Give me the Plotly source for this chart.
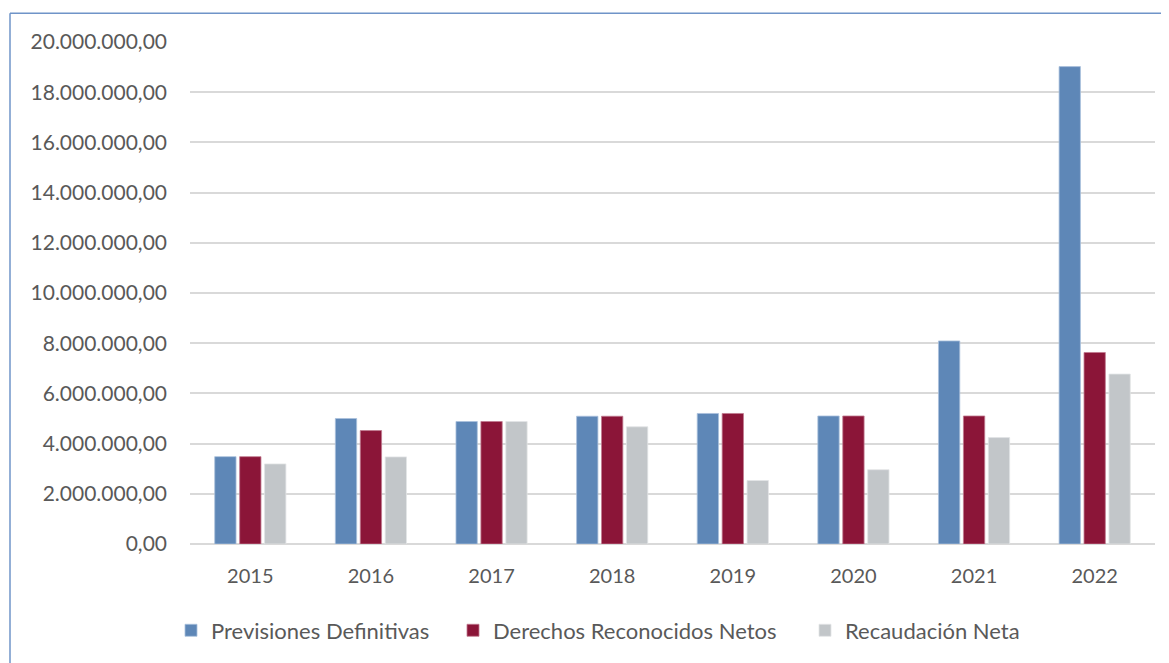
import plotly.graph_objects as go

years = ["2015", "2016", "2017", "2018", "2019", "2020", "2021", "2022"]
previsiones = [3480000, 5000000, 4880000, 5090000, 5200000, 5100000, 8090000, 19020000]
derechos = [3480000, 4520000, 4880000, 5090000, 5200000, 5100000, 5100000, 7630000]
recaudacion = [3190000, 3470000, 4880000, 4670000, 2530000, 2960000, 4240000, 6770000]
y_ticks = [0, 2000000, 4000000, 6000000, 8000000, 10000000, 12000000, 14000000, 16000000, 18000000, 20000000]

names = ["Previsiones Definitivas", "Derechos Reconocidos Netos", "Recaudación Neta"]
colors = ["#5E87B7", "#8B1538", "#C2C6C9"]
edges = ["#A9C0DC", "#C07A8F", "#E2E4E6"]
legend_ids = ["legend", "legend2", "legend3"]
legend_px = [185, 467, 819]  # left edge of legend markers (screen px)

OFF = 8  # page body margin
W, H = 1169 - OFF, 663 - OFF
L, T = 190 - OFF, 42 - OFF
R = W - (1155 - OFF)
B = H - (547 - OFF)
pw, ph = W - L - R, H - T - B

def px_x(p):
    return (p - OFF - L) / pw

def px_y(p):
    return (H - B - (p - OFF)) / ph

fig = go.Figure()
for name, vals, c, e, lg in zip(names, [previsiones, derechos, recaudacion], colors, edges, legend_ids):
    fig.add_trace(go.Bar(x=years, y=vals, name=name, legend=lg,
                         marker=dict(color=c, line=dict(color=e, width=0.8))))

border = "#6F94C8"
shapes = [
    dict(type="line", xref="paper", yref="paper", x0=px_x(10), x1=px_x(1175), y0=px_y(13), y1=px_y(13),
         line=dict(color=border, width=1.5)),
    dict(type="line", xref="paper", yref="paper", x0=px_x(10), x1=px_x(10), y0=px_y(13), y1=px_y(670),
         line=dict(color=border, width=1.5)),
]

font = "Lato, 'Open Sans', sans-serif"
layout_legends = {}
for lg, lx in zip(legend_ids, legend_px):
    layout_legends[lg] = dict(orientation="h", x=px_x(lx - 14), xanchor="left", y=px_y(634), yanchor="middle",
                              font=dict(size=22, color="#595959"), itemwidth=30,
                              bgcolor="rgba(0,0,0,0)")

fig.update_layout(
    width=W, height=H,
    margin=dict(l=L, r=R, t=T, b=B),
    paper_bgcolor="white", plot_bgcolor="white",
    separators=",.",
    barmode="group", bargap=0.38, bargroupgap=0.145,
    font=dict(family=font, size=20, color="#595959"),
    shapes=shapes,
    showlegend=True,
    **layout_legends,
)
fig.update_yaxes(range=[0, 20000000], tickvals=y_ticks, tickformat=",.2f",
                 tickfont=dict(size=21),
                 showgrid=True, gridcolor="#D9D9D9", gridwidth=1.5,
                 zeroline=True, zerolinecolor="#D9D9D9", zerolinewidth=1.5,
                 showline=False, ticks="", ticklabelstandoff=22, fixedrange=True)
fig.update_xaxes(showline=False, ticks="", ticklabelstandoff=18, tickfont=dict(size=20), fixedrange=True)

fig.write_html("out.html")
